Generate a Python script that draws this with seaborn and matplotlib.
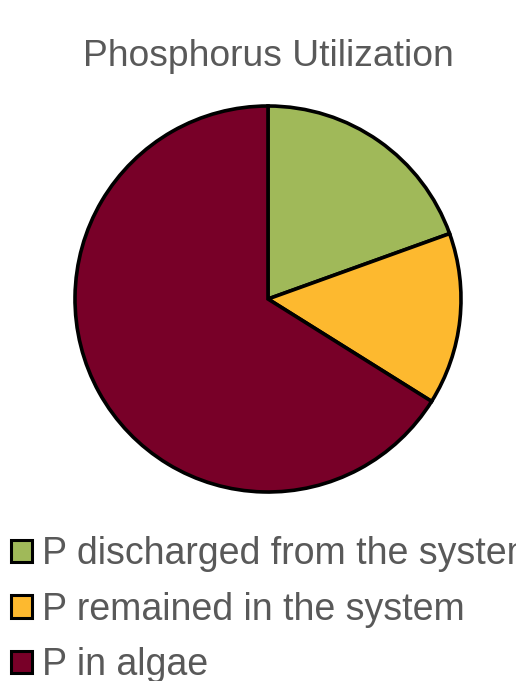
import matplotlib
matplotlib.use("Agg")
import matplotlib.pyplot as plt
from matplotlib.patches import Patch
import seaborn as sns

sns.set_theme(style="white")
plt.rcParams['font.family'] = ['Liberation Sans', 'DejaVu Sans']

categories = ["P discharged from the system", "P remained in the system", "P in algae"]
shares = [19.5, 14.4, 66.1]
colors = ["#A0B959", "#FDB92F", "#780028"]
title = "Phosphorus Utilization"
text_color = "#595959"

fig = plt.figure(figsize=(5.16, 6.81), dpi=100)
ax = fig.add_axes([75 / 516, (681 - 492) / 681, 386 / 516, 386 / 681])
ax.pie(shares, colors=colors, startangle=90, counterclock=False, radius=1,
       wedgeprops=dict(edgecolor="black", linewidth=2.6))
ax.set_xlim(-1.0, 1.0)
ax.set_ylim(-1.0, 1.0)
ax.set_aspect("equal")
ax.axis("off")

fig.text(268 / 516, 1 - 56 / 681, title, ha="center", va="center",
         fontsize=26.8, color=text_color)

handles = [Patch(facecolor=c, edgecolor="black", linewidth=2.2) for c in colors]
leg = fig.legend(handles, categories, loc="upper left",
                 bbox_to_anchor=(0.0, 1 - 525 / 681), frameon=False,
                 fontsize=27, handlelength=0.55, handleheight=0.55,
                 handletextpad=0.27, labelspacing=0.52, borderaxespad=0.0,
                 borderpad=0.3)
for t in leg.get_texts():
    t.set_color(text_color)

fig.savefig("out.png", dpi=100)
